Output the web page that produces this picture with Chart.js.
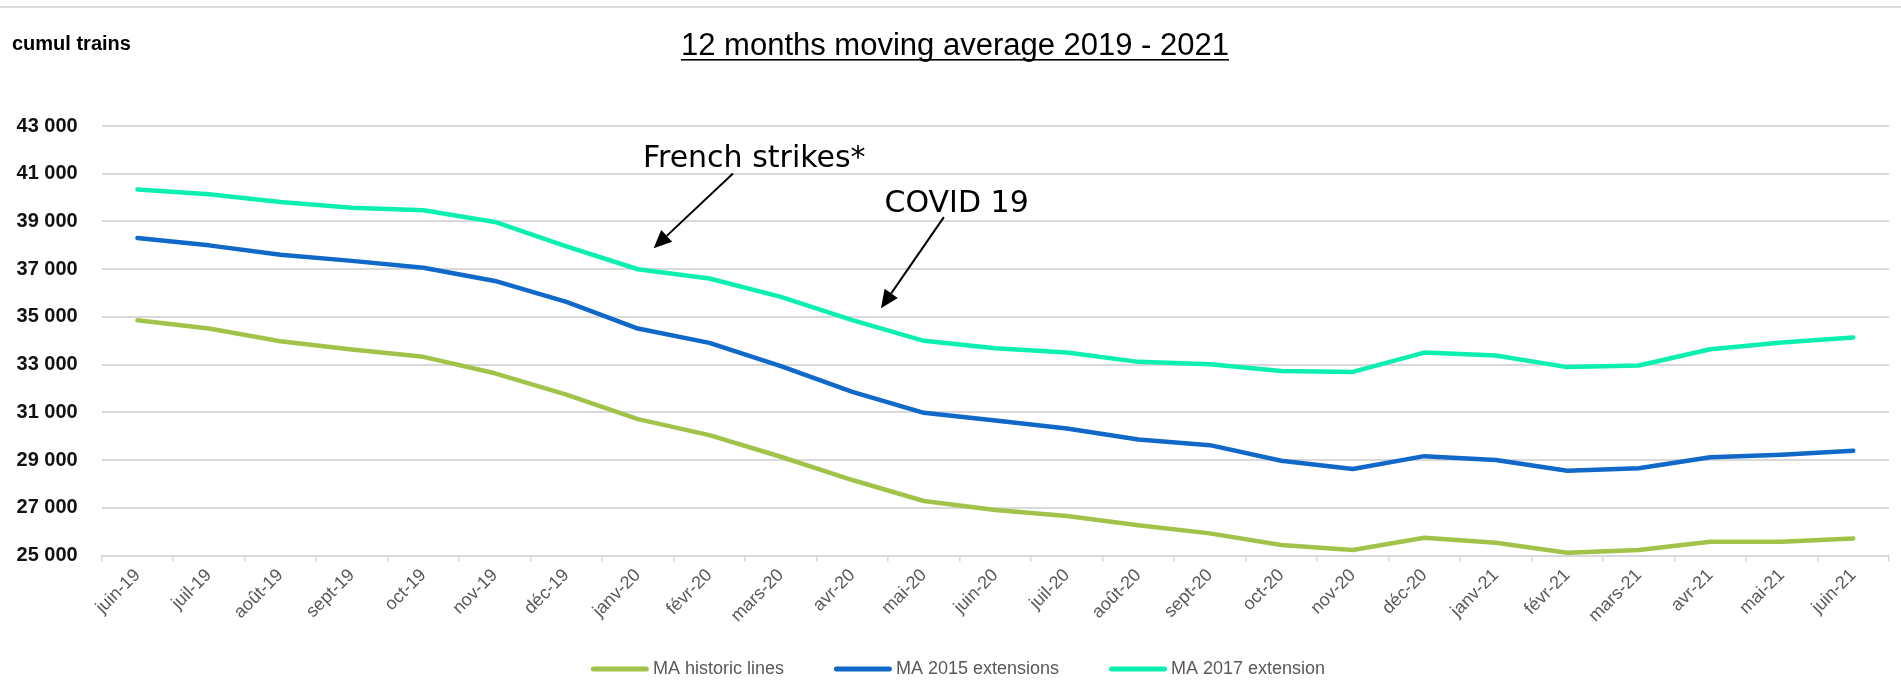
<!DOCTYPE html>
<html>
<head>
<meta charset="utf-8">
<script src="https://cdn.jsdelivr.net/npm/chart.js@4/dist/chart.umd.min.js"></script>
<style>
  html, body { margin: 0; padding: 0; background: #ffffff; }
  #wrap { position: relative; width: 1901px; height: 697px; }
</style>
</head>
<body>
<div id="wrap"><canvas id="c"></canvas></div>
<script>
// ---- data ----
const categories = ['juin-19','juil-19','août-19','sept-19','oct-19','nov-19','déc-19','janv-20','févr-20','mars-20','avr-20','mai-20','juin-20','juil-20','août-20','sept-20','oct-20','nov-20','déc-20','janv-21','févr-21','mars-21','avr-21','mai-21','juin-21'];
const maHistoric = [34865, 34515, 33985, 33640, 33330, 32640, 31750, 30720, 30050, 29145, 28170, 27290, 26910, 26660, 26280, 25935, 25450, 25240, 25750, 25545, 25125, 25240, 25585, 25585, 25725];
const ma2015 = [38310, 38000, 37610, 37350, 37060, 36510, 35630, 34515, 33915, 32940, 31865, 30985, 30660, 30330, 29870, 29630, 28980, 28630, 29170, 29005, 28560, 28660, 29120, 29230, 29395];
const ma2017 = [40340, 40140, 39820, 39580, 39470, 38980, 37960, 37000, 36610, 35840, 34870, 34000, 33690, 33510, 33120, 33020, 32740, 32700, 33510, 33390, 32900, 32970, 33650, 33930, 34140];
const seriesNames = ['MA historic lines', 'MA 2015 extensions', 'MA 2017 extension'];
const yMin = 25000, yMax = 43000, yStep = 2000;
const titleText = '12 months moving average 2019 - 2021';
const yAxisTitle = 'cumul trains';
// annotations in data space (category index, value)
const annotations = [
  { text: 'French strikes*', tx: 7.07, ty: 41266, fx: 8.33, fy: 41010, px: 7.22, py: 37880 },
  { text: 'COVID 19',        tx: 10.45, ty: 39380, fx: 11.28, fy: 39180, px: 10.40, py: 35370 }
];

const colors = ['#A1C349', '#1068C8', '#0BEFB0'];

function fmt(v) { return String(v).replace(/\B(?=(\d{3})+(?!\d))/g, ' '); }

const decor = {
  id: 'decor',
  beforeDraw(chart) {
    const ctx = chart.ctx;
    ctx.save();
    ctx.fillStyle = '#ffffff';
    ctx.fillRect(0, 0, chart.width, chart.height);
    ctx.strokeStyle = '#dcdcdc';
    ctx.lineWidth = 2;
    ctx.beginPath(); ctx.moveTo(0, 7); ctx.lineTo(chart.width, 7); ctx.stroke();
    ctx.restore();
  },
  afterDraw(chart) {
    const ctx = chart.ctx;
    const xs = chart.scales.x, ys = chart.scales.y;
    ctx.save();
    // title
    ctx.font = '31px "Liberation Sans", Arial, sans-serif';
    ctx.fillStyle = '#000000';
    ctx.textAlign = 'center';
    ctx.textBaseline = 'alphabetic';
    const cx = 955, by = 55;
    ctx.fillText(titleText, cx, by);
    const w = ctx.measureText(titleText).width;
    ctx.fillRect(cx - w / 2, by + 4, w, 1.6);
    // y-axis title
    ctx.font = 'bold 20px "Liberation Sans", Arial, sans-serif';
    ctx.textAlign = 'left';
    ctx.fillText(yAxisTitle, 12, 50);
    // annotations
    ctx.font = '30px "DejaVu Sans", Verdana, sans-serif';
    ctx.strokeStyle = '#000000';
    ctx.lineWidth = 2;
    annotations.forEach(a => {
      ctx.fillText(a.text, xs.getPixelForValue(a.tx), ys.getPixelForValue(a.ty));
      const x1 = xs.getPixelForValue(a.fx), y1 = ys.getPixelForValue(a.fy);
      const x2 = xs.getPixelForValue(a.px), y2 = ys.getPixelForValue(a.py);
      const ang = Math.atan2(y2 - y1, x2 - x1);
      const hl = 18, hw = 8;
      const bx = x2 - hl * Math.cos(ang), byy = y2 - hl * Math.sin(ang);
      ctx.beginPath(); ctx.moveTo(x1, y1); ctx.lineTo(bx, byy); ctx.stroke();
      ctx.beginPath();
      ctx.moveTo(x2, y2);
      ctx.lineTo(bx + hw * Math.sin(ang), byy - hw * Math.cos(ang));
      ctx.lineTo(bx - hw * Math.sin(ang), byy + hw * Math.cos(ang));
      ctx.closePath(); ctx.fill();
    });
    // legend (series names and colours taken from the datasets)
    ctx.font = '18px "Liberation Sans", Arial, sans-serif';
    ctx.textBaseline = 'middle';
    const boxW = 58, boxGap = 4, itemGap = 50, ly = 669;
    const items = chart.data.datasets.map(d => ({ text: d.label, color: d.borderColor, tw: ctx.measureText(d.label).width }));
    const total = items.reduce((s, it) => s + boxW + boxGap + it.tw, 0) + itemGap * (items.length - 1);
    let x = 958 - total / 2;
    items.forEach(it => {
      ctx.strokeStyle = it.color;
      ctx.lineWidth = 5;
      ctx.lineCap = 'round';
      ctx.beginPath(); ctx.moveTo(x + 2.5, ly); ctx.lineTo(x + boxW - 2.5, ly); ctx.stroke();
      ctx.fillStyle = '#595959';
      ctx.fillText(it.text, x + boxW + boxGap, ly);
      x += boxW + boxGap + it.tw + itemGap;
    });
    ctx.restore();
  }
};

const mk = (label, data, color) => ({
  label, data, borderColor: color, backgroundColor: color,
  borderWidth: 4.5, pointRadius: 0, pointHoverRadius: 0, tension: 0,
  borderCapStyle: 'round', borderJoinStyle: 'round', fill: false
});

new Chart(document.getElementById('c'), {
  type: 'line',
  data: {
    labels: categories,
    datasets: [
      mk(seriesNames[0], maHistoric, colors[0]),
      mk(seriesNames[1], ma2015, colors[1]),
      mk(seriesNames[2], ma2017, colors[2])
    ]
  },
  options: {
    responsive: true,
    maintainAspectRatio: false,
    animation: false,
    events: [],
    layout: { padding: { left: 0, right: 12, top: 126, bottom: 47 } },
    plugins: {
      title: { display: false },
      tooltip: { enabled: false },
      legend: { display: false }
    },
    scales: {
      x: {
        type: 'category',
        offset: true,
        afterFit(s) { s.height = 94.3; },
        grid: { display: true, drawOnChartArea: false, drawTicks: true, tickLength: 6, offset: true, color: '#d9d9d9', lineWidth: 1.5 },
        border: { display: true, color: '#d9d9d9', width: 2 },
        ticks: {
          autoSkip: false, minRotation: 45, maxRotation: 45, padding: 3,
          color: '#595959',
          font: { family: '"Liberation Sans", Arial, sans-serif', size: 18 }
        }
      },
      y: {
        min: yMin, max: yMax,
        afterFit(s) { s.width = 101.7; },
        grid: { color: '#d9d9d9', lineWidth: 2, drawTicks: false },
        border: { display: false },
        ticks: {
          stepSize: yStep, padding: 24,
          color: '#111111',
          font: { family: '"Liberation Sans", Arial, sans-serif', size: 20, weight: 'bold' },
          callback: (v) => fmt(v)
        }
      }
    }
  },
  plugins: [decor]
});
</script>
</body>
</html>
